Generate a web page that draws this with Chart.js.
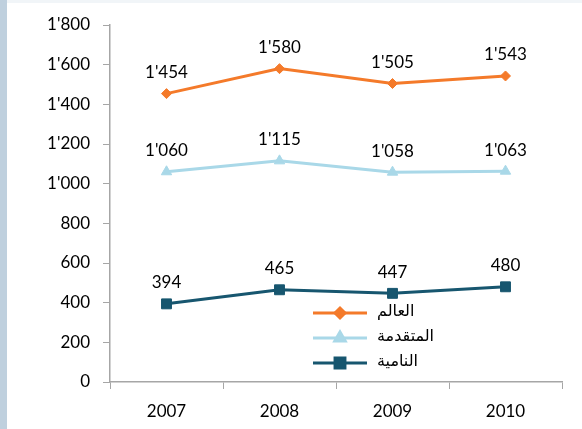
<!DOCTYPE html>
<html>
<head>
<meta charset="utf-8">
<script src="https://cdn.jsdelivr.net/npm/chart.js@4.4.0/dist/chart.umd.min.js"></script>
<style>
  body { margin: 0; background: #ffffff; }
  #wrap { position: absolute; left: 0; top: 0; width: 582px; height: 429px; }
  #strip { position: absolute; left: 0; top: 0; width: 7px; height: 429px; background: #bfd0de; }
  #topline { position: absolute; left: 7px; top: 0; width: 575px; height: 3px; background: #f1f5f8; }
</style>
</head>
<body>
<div id="wrap"><canvas id="chart" width="582" height="429"></canvas></div>
<div id="strip"></div>
<div id="topline"></div>
<script>
// données
var annees = ['2007', '2008', '2009', '2010'];
var monde = [1454, 1580, 1505, 1543];
var avances = [1060, 1115, 1058, 1063];
var enDev = [394, 465, 447, 480];
var noms = ['العالم', 'المتقدمة', 'النامية'];
var couleurs = ['#f47a2a', '#a9d8e8', '#17566f'];
var formes = ['rectRot', 'triangle', 'rect'];
var tailles = [5, 6, 7];

function fmt(v) {
    return String(v).replace(/\B(?=(\d{3})+(?!\d))/g, "'");
}

// étiquettes de valeurs au-dessus des points
var etiquettes = {
    id: 'etiquettes',
    afterDatasetsDraw: function (chart) {
        var ctx = chart.ctx;
        ctx.save();
        ctx.font = '17px Lato';
        ctx.fillStyle = '#000';
        ctx.textAlign = 'center';
        ctx.textBaseline = 'middle';
        chart.data.datasets.forEach(function (ds, i) {
            chart.getDatasetMeta(i).data.forEach(function (pt, j) {
                ctx.fillText(fmt(ds.data[j]), pt.x, pt.y - 21);
            });
        });
        ctx.restore();
    }
};

// légende dessinée à la main dans la zone du graphique
var legende = {
    id: 'legende',
    afterDraw: function (chart) {
        var ctx = chart.ctx;
        ctx.save();
        var y0 = 313;
        noms.forEach(function (nom, i) {
            var y = y0 + i * 25;
            ctx.strokeStyle = couleurs[i];
            ctx.lineWidth = 3;
            ctx.beginPath();
            ctx.moveTo(313, y);
            ctx.lineTo(367, y);
            ctx.stroke();
            Chart.helpers.drawPoint(ctx, {
                pointStyle: formes[i],
                radius: tailles[i],
                rotation: 0,
                borderWidth: 1
            }, 340, y);
            ctx.fillStyle = couleurs[i];
            ctx.fill();
            ctx.fillStyle = '#000';
            ctx.font = '16px "DejaVu Sans"';
            ctx.textAlign = 'left';
            ctx.textBaseline = 'middle';
            ctx.fillText(nom, 377, y - 1);
        });
        ctx.restore();
    }
};

var series = [monde, avances, enDev];

var chart = new Chart(document.getElementById('chart'), {
    type: 'line',
    data: {
        labels: annees,
        datasets: series.map(function (d, i) {
            return {
                label: noms[i],
                data: d,
                borderColor: couleurs[i],
                backgroundColor: couleurs[i],
                borderWidth: 3,
                pointStyle: formes[i],
                pointRadius: tailles[i],
                pointHoverRadius: tailles[i],
                pointBorderWidth: 1,
                tension: 0
            };
        })
    },
    options: {
        responsive: false,
        animation: false,
        layout: { padding: { left: 0, right: 20, top: 25, bottom: 0 } },
        plugins: {
            legend: { display: false },
            tooltip: { enabled: false }
        },
        scales: {
            x: {
                offset: true,
                grid: {
                    display: true,
                    drawOnChartArea: false,
                    offset: true,
                    tickLength: 7,
                    color: '#a6a6a6'
                },
                border: { color: '#a6a6a6', width: 1.5 },
                ticks: { font: { family: 'Lato', size: 17 }, color: '#000', padding: 12 },
                afterFit: function (s) { s.height = 47; }
            },
            y: {
                min: 0,
                max: 1800,
                grid: {
                    display: true,
                    drawOnChartArea: false,
                    tickLength: 7,
                    color: '#a6a6a6'
                },
                border: { color: '#a6a6a6', width: 1.5 },
                ticks: {
                    stepSize: 200,
                    font: { family: 'Lato', size: 17 },
                    color: '#000',
                    padding: 13,
                    callback: function (v) { return fmt(v); }
                },
                afterFit: function (s) { s.width = 110; }
            }
        }
    },
    plugins: [etiquettes, legende]
});
</script>
</body>
</html>
